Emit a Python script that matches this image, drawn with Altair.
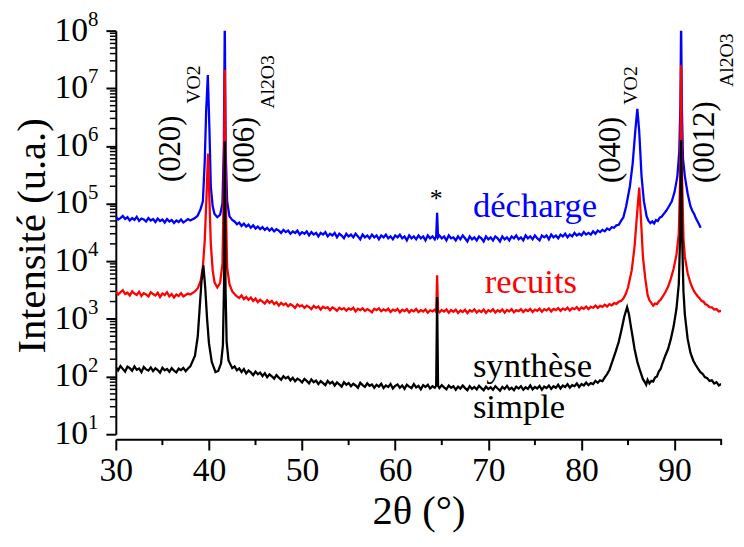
import altair as alt
import pandas as pd

FONT = "Liberation Serif, Times New Roman, serif"

# ---- data: (2theta, intensity) ----
synthese = [
    (30.0, 145), (30.25, 128), (30.5, 152), (30.75, 136), (31.0, 122), (31.25, 148), (31.5, 140), (31.75, 126),
    (32.0, 150), (32.25, 131), (32.5, 138), (32.75, 119), (33.0, 146), (33.25, 133), (33.5, 127), (33.75, 144),
    (34.0, 124), (34.25, 139), (34.5, 130), (34.75, 117), (35.0, 142), (35.25, 128), (35.5, 135), (35.75, 121),
    (36.0, 140), (36.25, 126), (36.5, 118), (36.75, 137), (37.0, 129), (37.25, 141), (37.5, 124), (37.75, 138),
    (38.0, 150), (38.5, 230), (38.8, 500), (39.0, 1500), (39.2, 4500), (39.4, 8500), (39.6, 3500), (39.8, 1000),
    (40.0, 380), (40.3, 180), (40.7, 120), (41.0, 125), (41.3, 170), (41.5, 350), (41.62, 4000), (41.7, 1.2e6),
    (41.78, 3500), (41.9, 400), (42.1, 190), (42.5, 140),
    (42.75, 150), (43.0, 128), (43.25, 138), (43.5, 120), (43.75, 135), (44.0, 113), (44.25, 127), (44.5, 118),
    (44.75, 106), (45.0, 122), (45.25, 110), (45.5, 117), (45.75, 102), (46.0, 114), (46.25, 97), (46.5, 109),
    (46.75, 101), (47.0, 92), (47.25, 106), (47.5, 96), (47.75, 88), (48.0, 101), (48.25, 93), (48.5, 99),
    (48.75, 86), (49.0, 95), (49.25, 83), (49.5, 92), (49.75, 87), (50.0, 79), (50.25, 91), (50.5, 84),
    (50.75, 76), (51.0, 89), (51.25, 80), (51.5, 85), (51.75, 74), (52.0, 83), (52.25, 77), (52.5, 71),
    (52.75, 84), (53.0, 76), (53.25, 81), (53.5, 70), (53.75, 79), (54.0, 73), (54.25, 67), (54.5, 80),
    (54.75, 72), (55.0, 77), (55.25, 68), (55.5, 75), (55.75, 70), (56.0, 64), (56.25, 78), (56.5, 71),
    (56.75, 66), (57.0, 76), (57.25, 69), (57.5, 73), (57.75, 64), (58.0, 72), (58.25, 67), (58.5, 75),
    (58.75, 63), (59.0, 70), (59.25, 66), (59.5, 74), (59.75, 62), (60.0, 69), (60.25, 73), (60.5, 64),
    (60.75, 70), (61.0, 61), (61.25, 72), (61.5, 67), (61.75, 63), (62.0, 74), (62.25, 65), (62.5, 69),
    (62.75, 60), (63.0, 71), (63.25, 66), (63.5, 72), (63.75, 62), (64.0, 68), (64.25, 64), (64.4, 70),
    (64.5, 2400), (64.6, 69),
    (64.75, 63), (65.0, 71), (65.25, 65), (65.5, 60), (65.75, 70), (66.0, 64), (66.25, 68), (66.5, 59),
    (66.75, 67), (67.0, 62), (67.25, 70), (67.5, 63), (67.75, 58), (68.0, 68), (68.25, 61), (68.5, 66),
    (68.75, 60), (69.0, 69), (69.25, 63), (69.5, 58), (69.75, 67), (70.0, 61), (70.25, 65), (70.5, 59),
    (70.75, 68), (71.0, 62), (71.25, 57), (71.5, 66), (71.75, 61), (72.0, 69), (72.25, 60), (72.5, 64),
    (72.75, 58), (73.0, 67), (73.25, 62), (73.5, 68), (73.75, 59), (74.0, 65), (74.25, 61), (74.5, 70),
    (74.75, 60), (75.0, 66), (75.25, 62), (75.5, 69), (75.75, 59), (76.0, 67), (76.25, 63), (76.5, 70),
    (76.75, 61), (77.0, 68), (77.25, 64), (77.5, 72), (77.75, 62), (78.0, 70), (78.25, 66), (78.5, 74),
    (78.75, 64), (79.0, 71), (79.25, 68), (79.5, 76), (79.75, 66), (80.0, 74), (80.25, 70), (80.5, 79),
    (80.75, 71), (81.0, 77), (81.25, 74), (81.5, 84), (81.75, 78), (82.0, 86), (82.25, 83), (82.5, 97),
    (82.75, 110), (83.0, 130), (83.4, 200), (83.7, 280), (84.0, 400), (84.3, 650), (84.6, 1100), (84.9, 1600),
    (85.1, 1200), (85.3, 750), (85.5, 480), (85.7, 300), (86.0, 180), (86.3, 125), (86.6, 90), (86.8, 80),
    (86.95, 72), (87.1, 88), (87.3, 76), (87.5, 84), (87.7, 82), (87.9, 96), (88.1, 100), (88.3, 122),
    (88.5, 135), (88.7, 170), (89.0, 230), (89.3, 300), (89.6, 450), (89.9, 750), (90.2, 1500), (90.45, 4000),
    (90.6, 3e4), (90.7, 1.27e6), (90.8, 3e4), (90.95, 3000), (91.1, 1200), (91.4, 450), (91.7, 260), (92.0, 190),
    (92.25, 160), (92.5, 138), (92.75, 120), (93.0, 112), (93.25, 98), (93.5, 94), (93.75, 84), (94.0, 86),
    (94.25, 76), (94.5, 80), (94.75, 70), (95.0, 74),
]

recuits = [
    (30.0, 3000), (30.25, 2650), (30.5, 2900), (30.75, 3150), (31.0, 2700), (31.25, 2850), (31.5, 2550), (31.75, 3000),
    (32.0, 2750), (32.25, 2600), (32.5, 2950), (32.75, 2500), (33.0, 2800), (33.25, 2650), (33.5, 2450), (33.75, 2900),
    (34.0, 2700), (34.25, 2550), (34.5, 2850), (34.75, 2400), (35.0, 2750), (35.25, 2600), (35.5, 2900), (35.75, 2450),
    (36.0, 2700), (36.25, 2350), (36.5, 2650), (36.75, 2500), (37.0, 2800), (37.25, 2450), (37.5, 2600), (37.75, 2750),
    (38.0, 2650), (38.5, 3000), (38.8, 3400), (39.1, 4500), (39.35, 8000), (39.55, 2.3e4), (39.75, 1.5e5), (39.9, 7.4e5),
    (40.05, 1.2e5), (40.2, 2e4), (40.4, 7000), (40.6, 4300), (40.9, 3500), (41.2, 4200), (41.45, 9000), (41.6, 2e5),
    (41.7, 2.1e7), (41.8, 1.5e5), (41.95, 8000), (42.2, 4000), (42.5, 3000),
    (42.75, 2700), (43.0, 2450), (43.25, 2300), (43.5, 2550), (43.75, 2200), (44.0, 2400), (44.25, 2150), (44.5, 2350),
    (44.75, 2050), (45.0, 2250), (45.25, 1950), (45.5, 2150), (45.75, 2000), (46.0, 1850), (46.25, 2100), (46.5, 1900),
    (46.75, 2050), (47.0, 1800), (47.25, 1950), (47.5, 1700), (47.75, 1900), (48.0, 1750), (48.25, 1850), (48.5, 1650),
    (48.75, 1800), (49.0, 1700), (49.25, 1550), (49.5, 1780), (49.75, 1650), (50.0, 1720), (50.25, 1550), (50.5, 1700),
    (50.75, 1600), (51.0, 1480), (51.25, 1680), (51.5, 1560), (51.75, 1640), (52.0, 1450), (52.25, 1620), (52.5, 1530),
    (52.75, 1600), (53.0, 1420), (53.25, 1580), (53.5, 1500), (53.75, 1380), (54.0, 1560), (54.25, 1460), (54.5, 1540),
    (54.75, 1390), (55.0, 1520), (55.25, 1450), (55.5, 1560), (55.75, 1350), (56.0, 1500), (56.25, 1420), (56.5, 1530),
    (56.75, 1370), (57.0, 1480), (57.25, 1400), (57.5, 1300), (57.75, 1500), (58.0, 1420), (58.25, 1520), (58.5, 1360),
    (58.75, 1460), (59.0, 1390), (59.25, 1500), (59.5, 1320), (59.75, 1450), (60.0, 1380), (60.25, 1490), (60.5, 1300),
    (60.75, 1440), (61.0, 1360), (61.25, 1470), (61.5, 1290), (61.75, 1430), (62.0, 1350), (62.25, 1480), (62.5, 1310),
    (62.75, 1420), (63.0, 1340), (63.25, 1460), (63.5, 1280), (63.75, 1410), (64.0, 1350), (64.25, 1450), (64.4, 1330),
    (64.5, 5700), (64.6, 1400),
    (64.75, 1300), (65.0, 1430), (65.25, 1340), (65.5, 1460), (65.75, 1280), (66.0, 1420), (66.25, 1330), (66.5, 1450),
    (66.75, 1270), (67.0, 1400), (67.25, 1320), (67.5, 1440), (67.75, 1260), (68.0, 1410), (68.25, 1340), (68.5, 1460),
    (68.75, 1290), (69.0, 1400), (69.25, 1320), (69.5, 1450), (69.75, 1270), (70.0, 1420), (70.25, 1340), (70.5, 1470),
    (70.75, 1290), (71.0, 1410), (71.25, 1330), (71.5, 1460), (71.75, 1280), (72.0, 1430), (72.25, 1350), (72.5, 1470),
    (72.75, 1300), (73.0, 1420), (73.25, 1360), (73.5, 1480), (73.75, 1310), (74.0, 1440), (74.25, 1370), (74.5, 1490),
    (74.75, 1320), (75.0, 1450), (75.25, 1380), (75.5, 1500), (75.75, 1330), (76.0, 1470), (76.25, 1400), (76.5, 1520),
    (76.75, 1350), (77.0, 1490), (77.25, 1420), (77.5, 1540), (77.75, 1380), (78.0, 1510), (78.25, 1440), (78.5, 1570),
    (78.75, 1400), (79.0, 1540), (79.25, 1470), (79.5, 1600), (79.75, 1430), (80.0, 1580), (80.25, 1500), (80.5, 1640),
    (80.75, 1480), (81.0, 1620), (81.25, 1560), (81.5, 1700), (81.75, 1550), (82.0, 1680), (82.25, 1620), (82.5, 1760),
    (82.75, 1640), (83.0, 1800), (83.25, 1720), (83.5, 1880), (83.75, 1820), (84.0, 1980), (84.25, 2050), (84.5, 2250),
    (84.75, 2700), (85.0, 3500), (85.4, 7000), (85.7, 1.8e4), (85.95, 6e4), (86.2, 1.9e5), (86.4, 5e4), (86.6, 1.2e4),
    (86.85, 5000), (87.1, 2600), (87.3, 2100), (87.5, 1900), (87.7, 1700), (87.9, 1850), (88.1, 1800), (88.3, 2000),
    (88.5, 2150), (88.7, 2400), (89.0, 2900), (89.3, 3600), (89.6, 5000), (89.9, 7500), (90.2, 1.3e4), (90.45, 3e4),
    (90.6, 3e5), (90.7, 2.5e7), (90.8, 3e5), (90.95, 2.5e4), (91.1, 1.2e4), (91.4, 6200), (91.7, 4200), (91.9, 3500),
    (92.1, 3000), (92.3, 2700), (92.5, 2450), (92.7, 2250), (92.9, 2050), (93.1, 2000), (93.3, 1800), (93.5, 1750),
    (93.75, 1600), (94.0, 1580), (94.25, 1450), (94.5, 1480), (94.75, 1350), (95.0, 1380),
]

decharge = [
    (30.0, 5.9e4), (30.25, 5.3e4), (30.5, 5.6e4), (30.75, 6.1e4), (31.0, 5.4e4), (31.25, 5.8e4), (31.5, 5.1e4), (31.75, 5.6e4),
    (32.0, 5.2e4), (32.25, 5.9e4), (32.5, 5.0e4), (32.75, 5.5e4), (33.0, 5.3e4), (33.25, 4.9e4), (33.5, 5.6e4), (33.75, 5.1e4),
    (34.0, 5.4e4), (34.25, 4.8e4), (34.5, 5.5e4), (34.75, 5.0e4), (35.0, 5.3e4), (35.25, 4.7e4), (35.5, 5.4e4), (35.75, 4.9e4),
    (36.0, 5.2e4), (36.25, 4.6e4), (36.5, 5.1e4), (36.75, 4.8e4), (37.0, 5.3e4), (37.25, 4.7e4), (37.5, 5.0e4), (37.75, 5.4e4),
    (38.0, 5.1e4), (38.5, 5.6e4), (38.8, 6.2e4), (39.1, 8e4), (39.35, 1.1e5), (39.55, 5.5e5), (39.7, 4e6), (39.88, 1.7e7),
    (40.05, 2e6), (40.2, 2e5), (40.4, 9e4), (40.6, 6.6e4), (40.9, 5.8e4), (41.2, 6.4e4), (41.45, 1e5), (41.6, 1e6),
    (41.7, 1.5e8), (41.8, 8e5), (41.95, 1.1e5), (42.2, 6e4), (42.5, 5.2e4),
    (42.75, 4.9e4), (43.0, 4.4e4), (43.25, 4.7e4), (43.5, 4.1e4), (43.75, 4.5e4), (44.0, 4.0e4), (44.25, 4.3e4), (44.5, 3.8e4),
    (44.75, 4.2e4), (45.0, 3.7e4), (45.25, 4.0e4), (45.5, 3.6e4), (45.75, 3.9e4), (46.0, 3.5e4), (46.25, 3.8e4), (46.5, 3.4e4),
    (46.75, 3.7e4), (47.0, 3.3e4), (47.25, 3.6e4), (47.5, 3.4e4), (47.75, 3.1e4), (48.0, 3.5e4), (48.25, 3.2e4), (48.5, 3.4e4),
    (48.75, 3.0e4), (49.0, 3.3e4), (49.25, 3.1e4), (49.5, 3.4e4), (49.75, 2.9e4), (50.0, 3.2e4), (50.25, 3.0e4), (50.5, 3.3e4),
    (50.75, 2.8e4), (51.0, 3.2e4), (51.25, 2.9e4), (51.5, 3.1e4), (51.75, 2.7e4), (52.0, 3.1e4), (52.25, 2.9e4), (52.5, 3.2e4),
    (52.75, 2.7e4), (53.0, 3.0e4), (53.25, 2.8e4), (53.5, 3.1e4), (53.75, 2.6e4), (54.0, 3.0e4), (54.25, 2.8e4), (54.5, 2.5e4),
    (54.75, 3.0e4), (55.0, 2.7e4), (55.25, 2.9e4), (55.5, 2.6e4), (55.75, 3.0e4), (56.0, 2.7e4), (56.25, 2.4e4), (56.5, 2.9e4),
    (56.75, 2.6e4), (57.0, 2.8e4), (57.25, 2.5e4), (57.5, 2.9e4), (57.75, 2.6e4), (58.0, 2.8e4), (58.25, 2.4e4), (58.5, 2.8e4),
    (58.75, 2.6e4), (59.0, 2.9e4), (59.25, 2.5e4), (59.5, 2.7e4), (59.75, 2.4e4), (60.0, 2.8e4), (60.25, 2.6e4), (60.5, 2.9e4),
    (60.75, 2.5e4), (61.0, 2.7e4), (61.25, 2.3e4), (61.5, 2.8e4), (61.75, 2.5e4), (62.0, 2.7e4), (62.25, 2.4e4), (62.5, 2.8e4),
    (62.75, 2.5e4), (63.0, 2.7e4), (63.25, 2.3e4), (63.5, 2.8e4), (63.75, 2.5e4), (64.0, 2.7e4), (64.25, 2.4e4), (64.4, 2.7e4),
    (64.5, 6.9e4), (64.6, 2.6e4),
    (64.75, 2.8e4), (65.0, 2.5e4), (65.25, 2.7e4), (65.5, 2.3e4), (65.75, 2.8e4), (66.0, 2.5e4), (66.25, 2.6e4), (66.5, 2.3e4),
    (66.75, 2.7e4), (67.0, 2.4e4), (67.25, 2.8e4), (67.5, 2.5e4), (67.75, 2.2e4), (68.0, 2.7e4), (68.25, 2.4e4), (68.5, 2.6e4),
    (68.75, 2.3e4), (69.0, 2.7e4), (69.25, 2.5e4), (69.5, 2.2e4), (69.75, 2.7e4), (70.0, 2.4e4), (70.25, 2.6e4), (70.5, 2.3e4),
    (70.75, 2.7e4), (71.0, 2.5e4), (71.25, 2.2e4), (71.5, 2.7e4), (71.75, 2.4e4), (72.0, 2.6e4), (72.25, 2.3e4), (72.5, 2.7e4),
    (72.75, 2.5e4), (73.0, 2.8e4), (73.25, 2.4e4), (73.5, 2.6e4), (73.75, 2.3e4), (74.0, 2.8e4), (74.25, 2.5e4), (74.5, 2.7e4),
    (74.75, 2.4e4), (75.0, 2.8e4), (75.25, 2.5e4), (75.5, 2.3e4), (75.75, 2.8e4), (76.0, 2.6e4), (76.25, 2.8e4), (76.5, 2.4e4),
    (76.75, 2.9e4), (77.0, 2.6e4), (77.25, 2.8e4), (77.5, 2.5e4), (77.75, 2.9e4), (78.0, 2.7e4), (78.25, 3.0e4), (78.5, 2.6e4),
    (78.75, 2.9e4), (79.0, 2.7e4), (79.25, 3.1e4), (79.5, 2.8e4), (79.75, 3.0e4), (80.0, 2.8e4), (80.25, 3.2e4), (80.5, 2.9e4),
    (80.75, 3.1e4), (81.0, 2.9e4), (81.25, 3.3e4), (81.5, 3.0e4), (81.75, 3.4e4), (82.0, 3.2e4), (82.25, 3.5e4), (82.5, 3.3e4),
    (82.75, 3.7e4), (83.0, 3.5e4), (83.25, 3.9e4), (83.5, 3.8e4), (83.75, 4.2e4), (84.0, 4.3e4), (84.25, 5.0e4), (84.5, 5.8e4),
    (84.8, 9e4), (85.2, 2e5), (85.5, 5e5), (85.8, 2e6), (86.0, 4.4e6), (86.2, 1.8e6), (86.45, 3e5), (86.7, 1.1e5),
    (87.0, 6e4), (87.2, 5.0e4), (87.4, 4.6e4), (87.6, 4.9e4), (87.8, 4.5e4), (88.0, 5.2e4), (88.2, 5.0e4), (88.4, 5.7e4),
    (88.6, 5.9e4), (88.8, 6.5e4), (89.1, 7.5e4), (89.4, 9e4), (89.7, 1.1e5), (90.0, 1.6e5), (90.3, 3e5), (90.5, 8e5),
    (90.62, 5e6), (90.7, 1.5e8), (90.78, 5e6), (90.9, 6e5), (91.1, 3e5), (91.4, 1.5e5), (91.7, 9e4), (91.9, 7.5e4),
    (92.1, 6.6e4), (92.3, 5.5e4), (92.5, 4.8e4), (92.65, 4.3e4), (92.8, 3.8e4),
]

# tick values
x_major = [30, 40, 50, 60, 70, 80, 90]
x_minor = [35, 45, 55, 65, 75, 85, 95]
y_exps = [1, 2, 3, 4, 5, 6, 7, 8]
y_minor = [k * 10.0 ** n for n in range(1, 8) for k in range(2, 10)]

# peak labels (rotated): main text and subscript
peak_main = ["(020)", "(006)", "(040)", "(0012)"]
peak_main_x = [36.9, 44.87, 84.17, 94.26]
peak_main_y = [2.37e5, 2.27e5, 2.27e5, 2.27e5]
peak_sub = ["VO2", "Al2O3", "VO2", "Al2O3"]
peak_sub_x = [39.03, 47.0, 85.97, 96.25]
peak_sub_y = [5.4e6, 4.4e6, 5.2e6, 1.05e7]

# series labels
series_text = ["décharge", "recuits", "synthèse", "simple"]
series_x = [68.34, 69.62, 68.34, 68.34]
series_y = [5.9e4, 2840, 99, 18.8]
series_color = ["#0000ff", "#ff0000", "#000000", "#000000"]

W, H = 612, 408

xs = alt.Scale(domain=[30, 95], nice=False, zero=False)
ys = alt.Scale(type="log", domain=[10, 1e8], nice=False)

x_axis = alt.Axis(
    values=x_major, tickSize=11, tickWidth=2, tickColor="black", domainWidth=2, domainColor="black",
    labelFont=FONT, labelFontSize=34, labelColor="black", labelPadding=4, labelFlush=False,
    labelOverlap=False, grid=False, offset=5,
    title="2θ (°)", titleFont=FONT, titleFontSize=41, titleFontWeight="normal", titleColor="black",
    titleX=W / 2, titleY=85, titleBaseline="alphabetic", titleAlign="center",
)
y_axis = alt.Axis(
    values=[10.0 ** e for e in y_exps], labels=False, tickSize=10, tickWidth=2, tickColor="black",
    domainWidth=2, domainColor="black", grid=False,
    title="Intensité (u.a.)", titleFont=FONT, titleFontSize=41, titleFontWeight="normal", titleColor="black",
    titleX=-72, titleY=207, titleAngle=270, titleBaseline="alphabetic", titleAlign="center",
)


def series_df(pairs):
    return pd.DataFrame({"x": [p[0] for p in pairs], "y": [p[1] for p in pairs]})


def line(pairs, color):
    return alt.Chart(series_df(pairs)).mark_line(color=color, strokeWidth=2.3, clip=True).encode(
        x=alt.X("x:Q", scale=xs, axis=x_axis),
        y=alt.Y("y:Q", scale=ys, axis=y_axis),
        order="x:Q",
    )


l_blue = line(decharge, "#0000ff")
l_red = line(recuits, "#ff0000")
l_black = line(synthese, "#000000")

# minor ticks
xminor = alt.Chart(pd.DataFrame({"x": x_minor})).mark_rule(color="black", strokeWidth=2).encode(
    x=alt.X("x:Q", scale=xs), y=alt.value(H + 5), y2=alt.value(H + 11)
)
yminor = alt.Chart(pd.DataFrame({"y": y_minor})).mark_rule(color="black", strokeWidth=1.5).encode(
    y=alt.Y("y:Q", scale=ys), x=alt.value(-6), x2=alt.value(0)
)

# y tick labels 10^n
ylab_df = pd.DataFrame({"y": [10.0 ** e for e in y_exps], "e": [str(e) for e in y_exps], "b": ["10"] * len(y_exps)})
ylab_base = alt.Chart(ylab_df).mark_text(font=FONT, fontSize=34, align="right", baseline="middle", color="black").encode(
    y=alt.Y("y:Q", scale=ys), x=alt.value(-28), text="b:N"
)
ylab_exp = alt.Chart(ylab_df).mark_text(font=FONT, fontSize=21, align="left", baseline="alphabetic", color="black", dy=-5).encode(
    y=alt.Y("y:Q", scale=ys), x=alt.value(-28), text="e:N"
)

# peak annotations
pm = alt.Chart(pd.DataFrame({"x": peak_main_x, "y": peak_main_y, "t": peak_main})).mark_text(
    font=FONT, fontSize=31, angle=270, align="left", baseline="alphabetic", color="black"
).encode(x=alt.X("x:Q", scale=xs), y=alt.Y("y:Q", scale=ys), text="t:N")
psub = alt.Chart(pd.DataFrame({"x": peak_sub_x, "y": peak_sub_y, "t": peak_sub})).mark_text(
    font=FONT, fontSize=20, angle=270, align="left", baseline="alphabetic", color="black"
).encode(x=alt.X("x:Q", scale=xs), y=alt.Y("y:Q", scale=ys), text="t:N")

star = alt.Chart(pd.DataFrame({"x": [64.41], "y": [8.65e4], "t": ["*"]})).mark_text(
    font=FONT, fontSize=26, align="center", baseline="alphabetic", color="black"
).encode(x=alt.X("x:Q", scale=xs), y=alt.Y("y:Q", scale=ys), text="t:N")

slab = alt.Chart(pd.DataFrame({"x": series_x, "y": series_y, "t": series_text, "c": series_color})).mark_text(
    font=FONT, fontSize=35, align="left", baseline="alphabetic"
).encode(
    x=alt.X("x:Q", scale=xs), y=alt.Y("y:Q", scale=ys), text="t:N", color=alt.Color("c:N", scale=None)
)

chart = alt.layer(
    l_blue, l_red, l_black, xminor, yminor, ylab_base, ylab_exp, pm, psub, star, slab
).properties(
    width=W, height=H,
    autosize=alt.AutoSizeParams(type="none"),
    padding={"left": 109, "top": 20, "right": 15, "bottom": 98},
    background="white",
).configure_view(stroke=None)

chart.save("out.html", embed_options={"renderer": "svg", "actions": False})
